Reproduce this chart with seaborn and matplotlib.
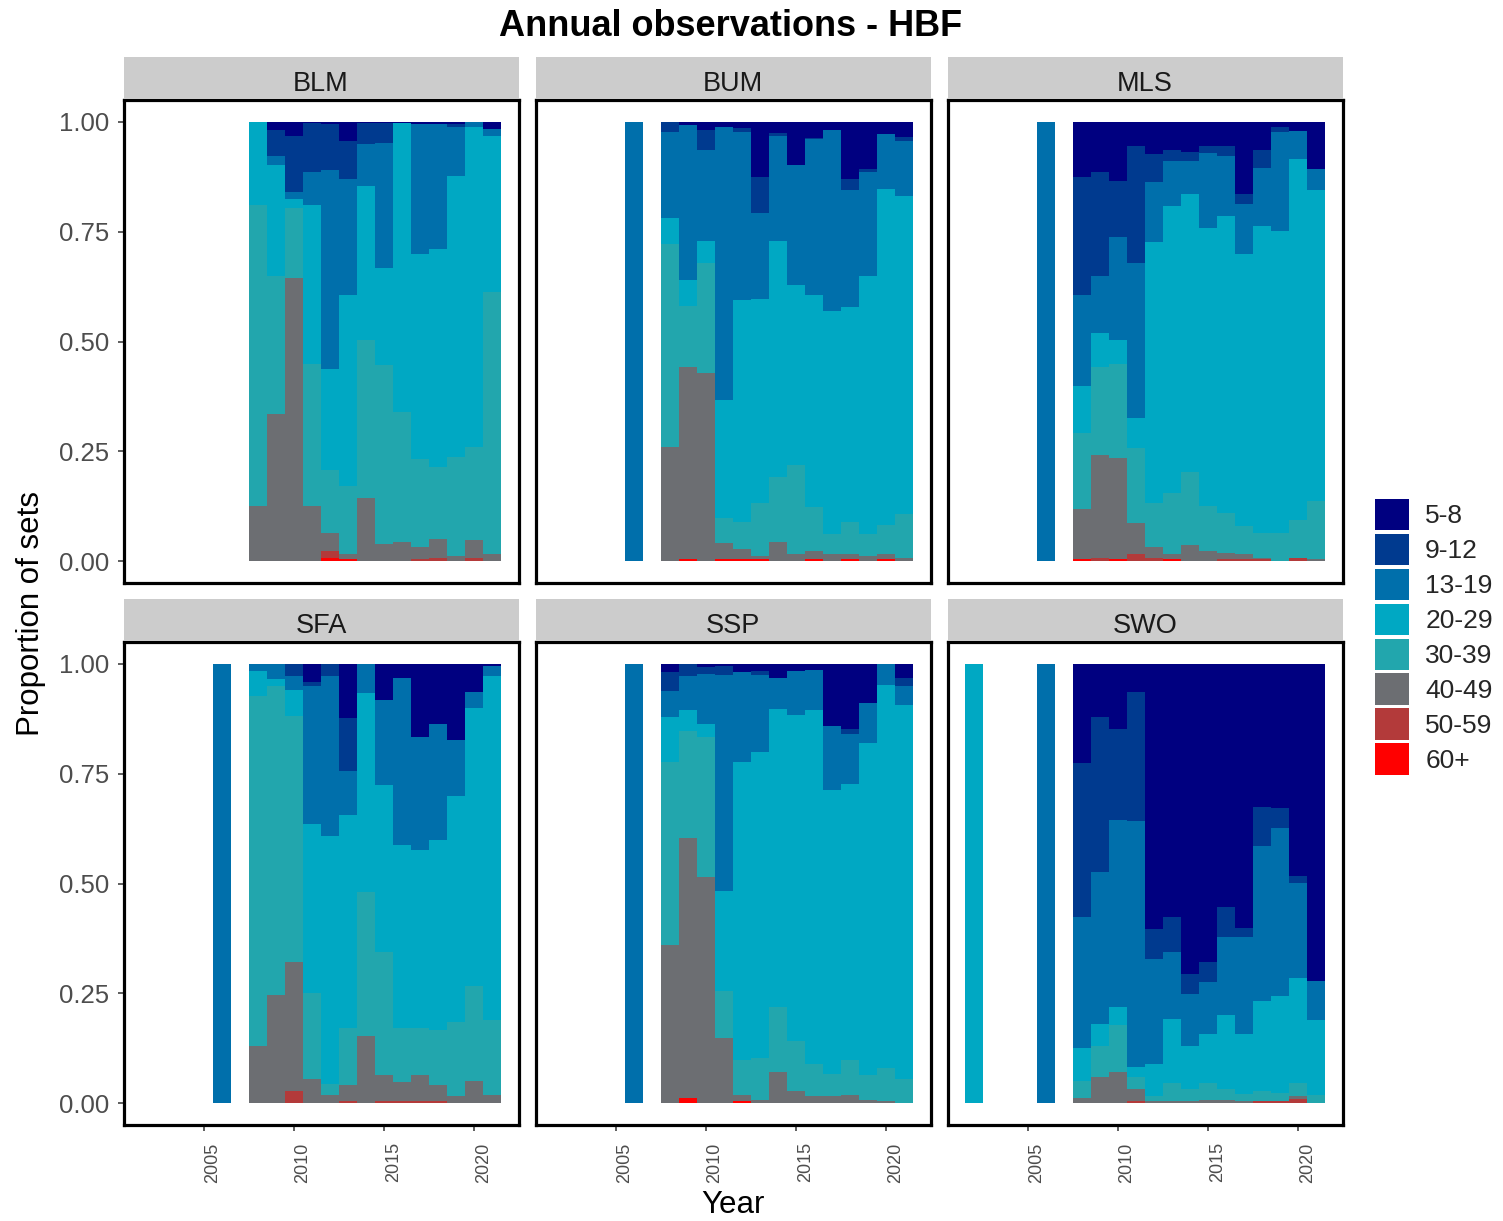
import numpy as np
import pandas as pd
import matplotlib
matplotlib.use("Agg")
import matplotlib.pyplot as plt
import matplotlib.transforms as mtransforms
from matplotlib.patches import Patch
import seaborn as sns

# ---------------- data ----------------
CATEGORIES = ["5-8", "9-12", "13-19", "20-29", "30-39", "40-49", "50-59", "60+"]
COLORS = ["#000080", "#003A8F", "#006FAB", "#00A8C3", "#22A6AD", "#6C6E72", "#B33A3A", "#FF0000"]
SPECIES = ["BLM", "BUM", "MLS", "SFA", "SSP", "SWO"]

YEARS_08_21 = list(range(2008, 2022))

BLM_YEARS = YEARS_08_21
BLM_PROPS = [
    [0, 0, 0, .188, .687, .125, 0, 0],
    [.019, .059, .019, .254, .313, .336, 0, 0],
    [.031, .129, .015, .020, .161, .643, 0, 0],
    [.002, .112, .074, .363, .324, .125, 0, 0],
    [.004, .106, .452, .231, .144, .040, .015, .008],
    [.044, .085, .266, .435, .156, .011, 0, .004],
    [.002, .048, .095, .352, .359, .144, 0, 0],
    [.002, .046, .285, .220, .410, .038, 0, 0],
    [.003, 0, 0, .657, .296, .043, 0, 0],
    [.004, 0, .296, .469, .199, .029, .004, 0],
    [.004, 0, .285, .496, .164, .043, .008, 0],
    [.004, .008, .110, .641, .226, .011, 0, 0],
    [0, 0, .011, .728, .213, .039, .008, 0],
    [.016, 0, .015, .357, .597, .015, 0, 0],
]

BUM_YEARS = [2006] + YEARS_08_21
BUM_PROPS = [
    [0, 0, 1, 0, 0, 0, 0, 0],
    [0, .024, .195, .059, .462, .260, 0, 0],
    [.008, 0, .353, .058, .140, .438, 0, .004],
    [.019, .046, .205, .051, .250, .429, 0, 0],
    [.011, 0, .622, .270, .055, .038, 0, .004],
    [.014, .010, .383, .505, .062, .023, 0, .004],
    [.126, .081, .196, .464, .121, .008, 0, .004],
    [.025, .006, .239, .539, .148, .043, 0, 0],
    [.099, 0, .271, .411, .203, .015, 0, 0],
    [.036, .002, .356, .484, .099, .019, 0, .004],
    [.019, 0, .410, .508, .047, .015, 0, 0],
    [.129, .027, .266, .489, .074, .011, 0, .004],
    [.106, .008, .237, .586, .051, .011, 0, 0],
    [.027, 0, .125, .766, .066, .011, 0, .004],
    [.035, .008, .125, .726, .099, .008, 0, 0],
]

MLS_YEARS = [2006] + YEARS_08_21
MLS_PROPS = [
    [0, 0, 1, 0, 0, 0, 0, 0],
    [.126, .269, .207, .106, .175, .114, 0, .004],
    [.114, .237, .129, .078, .200, .234, .008, 0],
    [.134, .129, .234, .055, .214, .230, 0, .004],
    [.055, .266, .355, .068, .171, .071, .015, 0],
    [.074, .063, .137, .593, .102, .023, .008, 0],
    [.063, .027, .102, .653, .140, .011, 0, .004],
    [.069, .020, .076, .632, .167, .036, 0, 0],
    [.055, .015, .171, .634, .102, .023, 0, 0],
    [.055, .023, .137, .675, .091, .015, .004, 0],
    [.165, .021, .114, .620, .064, .011, .004, 0],
    [.063, .043, .131, .700, .055, .004, .004, 0],
    [.011, .012, .225, .688, .063, 0, 0, 0],
    [.021, 0, .064, .821, .086, 0, .008, 0],
    [.108, 0, .048, .707, .133, .004, 0, 0],
]

SFA_YEARS = [2006] + YEARS_08_21
SFA_PROPS = [
    [0, 0, 1, 0, 0, 0, 0, 0],
    [0, 0, .015, .059, .797, .129, 0, 0],
    [0, 0, .034, .017, .702, .247, 0, 0],
    [0, .027, .032, .059, .560, .293, .028, 0],
    [.042, .008, .315, .385, .196, .055, 0, 0],
    [0, .027, .364, .566, .024, .019, 0, 0],
    [.124, .120, .101, .484, .132, .036, .004, 0],
    [0, 0, .066, .452, .329, .152, 0, 0],
    [.082, 0, .193, .381, .282, .059, .004, 0],
    [.032, 0, .380, .417, .124, .043, .004, 0],
    [.166, 0, .257, .405, .109, .059, .004, 0],
    [.137, 0, .263, .434, .126, .036, .004, 0],
    [.174, 0, .127, .514, .168, .017, 0, 0],
    [.063, 0, .038, .632, .216, .051, 0, 0],
    [.004, 0, .023, .785, .169, .019, 0, 0],
]

SSP_YEARS = [2006] + YEARS_08_21
SSP_PROPS = [
    [0, 0, 1, 0, 0, 0, 0, 0],
    [.019, .043, .059, .103, .415, .360, 0, 0],
    [0, .027, .079, .047, .244, .592, 0, .011],
    [.008, .015, .114, .030, .319, .514, 0, 0],
    [.004, .021, .492, .229, .106, .149, 0, 0],
    [.019, 0, .204, .678, .079, .015, 0, .004],
    [.015, .010, .175, .698, .095, .007, 0, 0],
    [.033, 0, .070, .678, .149, .070, 0, 0],
    [.015, 0, .101, .742, .114, .027, 0, 0],
    [.013, 0, .092, .806, .072, .017, 0, 0],
    [.141, 0, .145, .648, .051, .015, 0, 0],
    [.149, .011, .114, .627, .079, .019, 0, 0],
    [.090, 0, .091, .757, .056, .007, 0, 0],
    [0, 0, .047, .873, .075, .004, 0, 0],
    [.032, .018, .044, .851, .055, 0, 0, 0],
]

SWO_YEARS = [2002, 2006] + YEARS_08_21
SWO_PROPS = [
    [0, 0, 0, 1, 0, 0, 0, 0],
    [0, 0, 1, 0, 0, 0, 0, 0],
    [.225, .352, .297, .075, .040, .011, 0, 0],
    [.122, .353, .345, .052, .070, .059, 0, 0],
    [.149, .206, .427, .042, .107, .070, 0, 0],
    [.063, .294, .560, .024, .028, .027, .004, 0],
    [.604, .067, .239, .075, .011, .004, 0, 0],
    [.577, .079, .152, .146, .042, .004, 0, 0],
    [.705, .047, .118, .099, .027, .004, 0, 0],
    [.678, .047, .118, .111, .039, .007, 0, 0],
    [.553, .070, .178, .169, .024, .007, 0, 0],
    [.602, .021, .220, .137, .017, .004, 0, 0],
    [.325, .090, .352, .206, .023, 0, .004, 0],
    [.329, .044, .383, .221, .019, 0, .004, 0],
    [.483, .015, .216, .240, .030, .006, .009, 0],
    [.722, 0, .090, .169, .019, 0, 0, 0],
]

X_TICKS = [2005, 2010, 2015, 2020]
Y_TICKS = [0.0, 0.25, 0.5, 0.75, 1.0]
Y_TICK_LABELS = ["0.00", "0.25", "0.50", "0.75", "1.00"]

PANEL_DATA = {
    "BLM": (BLM_YEARS, BLM_PROPS),
    "BUM": (BUM_YEARS, BUM_PROPS),
    "MLS": (MLS_YEARS, MLS_PROPS),
    "SFA": (SFA_YEARS, SFA_PROPS),
    "SSP": (SSP_YEARS, SSP_PROPS),
    "SWO": (SWO_YEARS, SWO_PROPS),
}

# long table
rows = []
for sp in SPECIES:
    yrs, props = PANEL_DATA[sp]
    for y, row in zip(yrs, props):
        for c, v in zip(CATEGORIES, row):
            rows.append((sp, y, c, v))
df = pd.DataFrame(rows, columns=["species", "Year", "HBF", "n"])
df["prop"] = df["n"] / df.groupby(["species", "Year"])["n"].transform("sum")

# ---------------- style ----------------
sns.set_theme(style="white")
plt.rcParams["font.family"] = ["Liberation Sans", "DejaVu Sans"]

W, H = 1503, 1221
fig = plt.figure(figsize=(W / 100, H / 100), dpi=100)


def fx(px):
    return px / W


def fy(py):
    return 1 - py / H


PANEL_LEFTS = [123.5, 535.5, 947.5]
PANEL_W = 395
ROW_TOPS = [100, 642]
PANEL_H = 483
STRIP_H = 42

XLIM = (2000.55, 2022.45)
YLIM = (-0.05, 1.05)

for i, sp in enumerate(SPECIES):
    r, c = divmod(i, 3)
    left = PANEL_LEFTS[c]
    top = ROW_TOPS[r]
    ax = fig.add_axes([fx(left), fy(top + PANEL_H), fx(PANEL_W), PANEL_H / H])

    sub = df[df["species"] == sp]
    wide = sub.pivot(index="Year", columns="HBF", values="prop")[CATEGORIES]
    # cumulative from the bottom category upward
    for k, cat in enumerate(CATEGORIES):
        top_vals = wide[CATEGORIES[k:]].sum(axis=1)
        layer = pd.DataFrame({"Year": wide.index.values, "top": top_vals.values})
        sns.barplot(data=layer, x="Year", y="top", native_scale=True,
                    color=COLORS[k], saturation=1, width=0.985, errorbar=None,
                    linewidth=0, ax=ax)

    ax.set_xlim(*XLIM)
    ax.set_ylim(*YLIM)
    ax.set_xlabel("")
    ax.set_ylabel("")
    ax.set_facecolor("white")
    for s in ax.spines.values():
        s.set_visible(True)
        s.set_color("black")
        s.set_linewidth(2.3)
    ax.grid(False)

    ax.set_xticks(X_TICKS)
    ax.set_yticks(Y_TICKS)
    ax.set_yticklabels(Y_TICK_LABELS)
    ax.tick_params(axis="y", direction="out", length=4.5, width=1.1, color="#333333",
                   labelsize=18.5, labelcolor="#4D4D4D", pad=5.5,
                   left=(c == 0), labelleft=(c == 0))
    ax.tick_params(axis="x", direction="out", length=4.5, width=1.1, color="#333333",
                   labelsize=13, labelcolor="#4D4D4D", pad=8,
                   bottom=(r == 1), labelbottom=(r == 1))
    if r == 1:
        ax.set_xticklabels([str(t) for t in X_TICKS], rotation=90, va="top", ha="center")
        offset = mtransforms.ScaledTranslation(9 / 100, 0, fig.dpi_scale_trans)
        for lab in ax.get_xticklabels():
            lab.set_transform(lab.get_transform() + offset)

    # strip
    sax = fig.add_axes([fx(left), fy(top - 1), fx(PANEL_W), STRIP_H / H])
    sax.set_facecolor("#CCCCCC")
    sax.set_xticks([])
    sax.set_yticks([])
    for s in sax.spines.values():
        s.set_visible(False)
    sax.text(0.5, 0.36, sp, ha="center", va="center", fontsize=19.5,
             color="#1A1A1A", transform=sax.transAxes)

# titles
fig.text(fx(731), fy(27), "Annual observations - HBF", ha="center", va="center",
         fontsize=26, fontweight="bold", color="black")
fig.text(fx(733), fy(1205), "Year", ha="center", va="center", fontsize=22.5, color="black")
fig.text(fx(31), fy(613), "Proportion of sets", ha="center", va="center",
         fontsize=22.5, rotation=90, color="black")

# legend
handles = [Patch(facecolor=col, edgecolor="none", label=cat) for cat, col in zip(CATEGORIES, COLORS)]
fig.legend(handles=handles, loc="upper left", bbox_to_anchor=(fx(1375), fy(499)),
           frameon=False, fontsize=19, handlelength=1.3, handleheight=1.45,
           handletextpad=0.6, labelspacing=0.135, borderpad=0, borderaxespad=0)

fig.savefig("out.png", dpi=100)
